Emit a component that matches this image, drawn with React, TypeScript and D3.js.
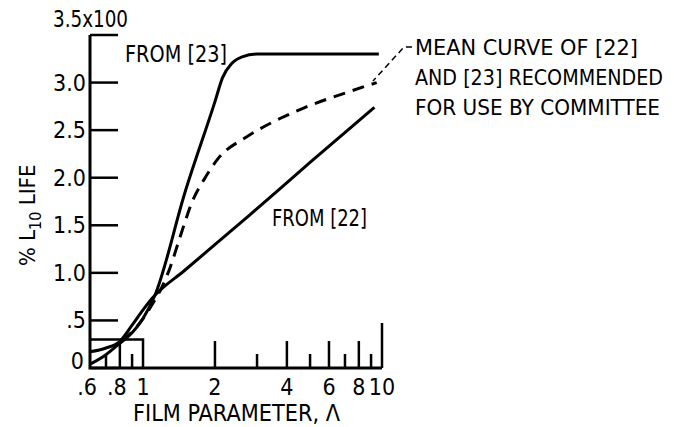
import React from 'react';
import * as d3 from 'd3';

// values (x = film parameter, y = % L10 life in hundreds)
const from23 = [
  [0.6, 0.04], [0.7, 0.14], [0.8, 0.26], [0.9, 0.37], [1.0, 0.52], [1.12, 0.76],
  [1.5, 1.85], [2.0, 2.8], [2.15, 3.05], [2.35, 3.2], [2.6, 3.27], [3.0, 3.3], [9.7, 3.3]
];
const from22 = [
  [0.6, 0.17], [0.7, 0.21], [0.8, 0.28], [0.9, 0.45], [1.0, 0.61], [1.09, 0.73],
  [1.5, 1.03], [2.8, 1.61], [5, 2.16], [9.3, 2.74]
];
const meanCurve = [
  [0.82, 0.29], [0.9, 0.38], [1.0, 0.52], [1.1, 0.68], [1.2, 0.85], [1.3, 1.06],
  [1.43, 1.38], [1.62, 1.77], [1.8, 1.98], [2.06, 2.2], [2.72, 2.43], [3.8, 2.63],
  [4.67, 2.73], [7.2, 2.9], [9.5, 3.0]
];
const boxLine = [[0.6, 0.3], [1, 0.3], [1, 0]];

const xMajor = [0.8, 2, 4, 6, 8];
const xMinor = [0.7, 0.9, 3, 5, 7, 9];
const xLabels = [['.6', 0.6], ['.8', 0.8], ['1', 1], ['2', 2], ['4', 4], ['6', 6], ['8', 8], ['10', 10]];
const yTicks = [0, 0.5, 1, 1.5, 2, 2.5, 3, 3.5];
const yLabels = ['0', '.5', '1.0', '1.5', '2.0', '2.5', '3.0'];
const noteLines = ['MEAN CURVE OF [22]', 'AND [23] RECOMMENDED', 'FOR USE BY COMMITTEE'];
const noteWidths = [223, 248, 245];

const font = '"DejaVu Sans Condensed", "Liberation Sans Narrow", sans-serif';

export default function App() {
  const x = d3.scaleLog().domain([0.6, 10]).range([90, 382]);
  const y = d3.scaleLinear().domain([0, 3.5]).range([368, 35]);

  const smooth = d3.line<number[]>()
    .x(d => x(d[0]))
    .y(d => y(d[1]))
    .curve(d3.curveMonotoneX);
  const straight = d3.line<number[]>().x(d => x(d[0])).y(d => y(d[1]));

  return (
    <svg width={674} height={427} style={{ position: 'absolute', left: 0, top: 0, background: '#fff' }}>
      <g fill="none" stroke="#000" strokeLinecap="butt">
        {/* axes */}
        <path d={`M${x(0.6)},${y(3.5)}V${y(0)}H${x(10)}`} strokeWidth={3} />
        {yTicks.map(t => (
          <line key={t} x1={x(0.6)} x2={x(0.6) + 28} y1={y(t)} y2={y(t)} strokeWidth={2.5} />
        ))}
        {xMajor.map(t => (
          <line key={t} x1={x(t)} x2={x(t)} y1={y(0)} y2={y(0) - 27} strokeWidth={2.5} />
        ))}
        {xMinor.map(t => (
          <line key={t} x1={x(t)} x2={x(t)} y1={y(0)} y2={y(0) - 14} strokeWidth={2.5} />
        ))}
        <line x1={x(10)} x2={x(10)} y1={y(0)} y2={y(0) - 45} strokeWidth={2.5} />
        <path d={straight(boxLine) || ''} strokeWidth={2.5} />

        {/* curves */}
        <path d={smooth(from23) || ''} strokeWidth={3} />
        <path d={smooth(from22) || ''} strokeWidth={3} />
        <path d={smooth(meanCurve) || ''} strokeWidth={3} strokeDasharray="12 8" />

        {/* leader */}
        <path d="M412,47H404L373,81" strokeWidth={1.5} strokeDasharray="6 4" />
      </g>

      <g fontFamily={font} fontSize={23} fill="#000">
        <text x={53} y={27} textLength={75} lengthAdjust="spacingAndGlyphs">3.5x100</text>
        {yLabels.map((l, i) => (
          <text key={l} x={i === 0 ? 84 : 86} y={y(yTicks[i]) + (i === 0 ? 1 : 8)} textAnchor="end">{l}</text>
        ))}
        {xLabels.map(([l, v]) => (
          <text key={l as string} x={x(v as number) - (v === 0.6 ? 3 : v === 0.8 ? 3 : 0)} y={395} textAnchor="middle">{l}</text>
        ))}
        <text x={133} y={421} textLength={207} lengthAdjust="spacingAndGlyphs">FILM PARAMETER, Λ</text>
        <text x={125} y={62} textLength={102} lengthAdjust="spacingAndGlyphs">FROM [23]</text>
        <text x={272} y={226} textLength={95} lengthAdjust="spacingAndGlyphs">FROM [22]</text>
        {noteLines.map((l, i) => (
          <text key={l} x={415} y={55 + i * 30} fontSize={21} textLength={noteWidths[i]} lengthAdjust="spacingAndGlyphs">{l}</text>
        ))}
        <text transform="translate(35,266) rotate(-90)" fontSize={22}>
          % L<tspan dy={6} fontSize={16}>10</tspan><tspan dy={-6}> LIFE</tspan>
        </text>
      </g>
    </svg>
  );
}
